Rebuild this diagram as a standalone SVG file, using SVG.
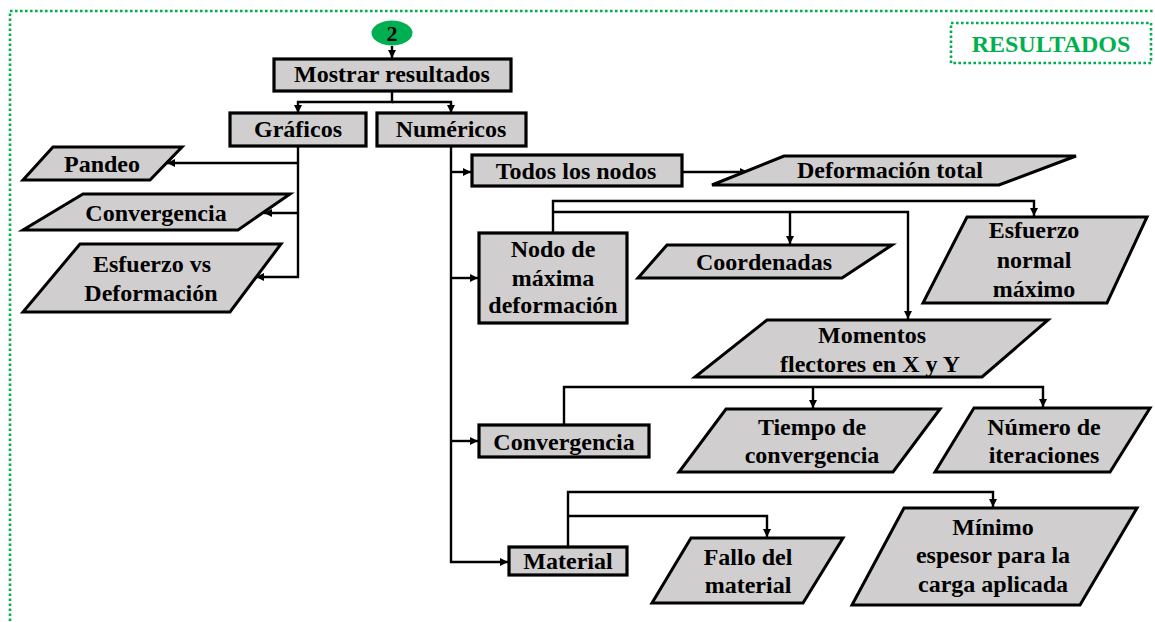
<svg xmlns="http://www.w3.org/2000/svg" width="1155" height="622" viewBox="0 0 1155 622">
<defs>
<marker id="ah" markerUnits="userSpaceOnUse" markerWidth="10" markerHeight="10" viewBox="0 0 10 10" refX="9" refY="5" orient="auto">
<path d="M1,1 L9,5 L1,9 Z" fill="#000"/>
</marker>
<style>
.bx{fill:#D0CECE;stroke:#000;stroke-width:3.2}
.pg{fill:#D0CECE;stroke:#000;stroke-width:3;stroke-linejoin:miter}
.cn{fill:none;stroke:#000;stroke-width:2.4}
.ar{marker-end:url(#ah)}
.t{font-family:"Liberation Serif","Times New Roman",serif;font-weight:bold;font-size:24px;fill:#000;text-anchor:middle}
.g{fill:none;stroke:#00B050;stroke-width:2.6;stroke-dasharray:2.6 2.4}
</style>
</defs>
<rect width="1155" height="622" fill="#fff"/>
<g id="frame">
<rect class="g" x="10" y="11" width="1160" height="630"/>
</g>
<g id="titulo">
<rect class="g" x="951" y="23" width="200" height="40"/>
<text class="t" x="1051" y="52" style="fill:#00B050">RESULTADOS</text>
</g>
<g id="conectores">
<path class="cn ar" d="M392 46 V58"/>
<path class="cn ar" d="M392 91 V102 H298 V113"/>
<path class="cn ar" d="M392 102 H451 V113"/>
<path class="cn ar" d="M298 146 V277 H256"/>
<path class="cn ar" d="M298 163 H167"/>
<path class="cn ar" d="M298 213 H264"/>
<path class="cn ar" d="M451 146 V562 H508"/>
<path class="cn ar" d="M451 172 H471"/>
<path class="cn ar" d="M451 278 H478"/>
<path class="cn ar" d="M451 441 H478"/>
<path class="cn ar" d="M682 172 H748"/>
<path class="cn ar" d="M553 233 V201 H1034 V216"/>
<path class="cn ar" d="M553 212 H908 V319"/>
<path class="cn ar" d="M790 212 V244"/>
<path class="cn ar" d="M564 425 V387 H1043 V407"/>
<path class="cn ar" d="M813 387 V408"/>
<path class="cn ar" d="M568 547 V492 H993 V507"/>
<path class="cn ar" d="M568 516 H767 V537"/>
</g>
<g id="inicio">
<ellipse cx="392" cy="33" rx="20.5" ry="12.5" fill="#00B050"/>
<text class="t" x="392" y="41" style="font-size:22px">2</text>
</g>
<g id="mostrar">
<rect class="bx" x="274" y="59" width="237" height="32"/>
<text class="t" x="392" y="82">Mostrar resultados</text>
</g>
<g id="graficos">
<rect class="bx" x="230" y="113" width="136" height="33"/>
<text class="t" x="298" y="137">Gráficos</text>
</g>
<g id="numericos">
<rect class="bx" x="377" y="113" width="149" height="33"/>
<text class="t" x="451" y="137">Numéricos</text>
</g>
<g id="pandeo">
<polygon class="pg" points="53,147 182,147 150,180 23,180"/>
<text class="t" x="102" y="172">Pandeo</text>
</g>
<g id="convergencia-g">
<polygon class="pg" points="83,194 290,194 238,230 23,230"/>
<text class="t" x="156" y="221">Convergencia</text>
</g>
<g id="esfuerzo-vs">
<polygon class="pg" points="80,244 281,244 230,312 23,312"/>
<text class="t" x="152" y="272">Esfuerzo vs</text>
<text class="t" x="151" y="301">Deformación</text>
</g>
<g id="todos">
<rect class="bx" x="472" y="155" width="210" height="31"/>
<text class="t" x="576" y="179">Todos los nodos</text>
</g>
<g id="deformacion-total">
<polygon class="pg" points="784,156 1076,156 999,185 712,185"/>
<text class="t" x="890" y="178">Deformación total</text>
</g>
<g id="nodo-max">
<rect class="bx" x="479" y="233" width="148" height="90"/>
<text class="t" x="553" y="257">Nodo de</text>
<text class="t" x="553" y="286">máxima</text>
<text class="t" x="553" y="313">deformación</text>
</g>
<g id="coordenadas">
<polygon class="pg" points="667,245 892,245 842,278 638,278"/>
<text class="t" x="764" y="270">Coordenadas</text>
</g>
<g id="esfuerzo-normal">
<polygon class="pg" points="967,217 1147,217 1107,303 923,303"/>
<text class="t" x="1034" y="238">Esfuerzo</text>
<text class="t" x="1034" y="268">normal</text>
<text class="t" x="1034" y="297">máximo</text>
</g>
<g id="momentos">
<polygon class="pg" points="767,320 1048,320 982,377 695,377"/>
<text class="t" x="872" y="343">Momentos</text>
<text class="t" x="870" y="372">flectores en X y Y</text>
</g>
<g id="convergencia-n">
<rect class="bx" x="479" y="425" width="170" height="32"/>
<text class="t" x="564" y="450">Convergencia</text>
</g>
<g id="tiempo">
<polygon class="pg" points="726,409 940,409 893,472 679,472"/>
<text class="t" x="812" y="435">Tiempo de</text>
<text class="t" x="812" y="463">convergencia</text>
</g>
<g id="iteraciones">
<polygon class="pg" points="974,408 1150,408 1110,472 935,472"/>
<text class="t" x="1044" y="435">Número de</text>
<text class="t" x="1044" y="463">iteraciones</text>
</g>
<g id="material">
<rect class="bx" x="509" y="547" width="118" height="28"/>
<text class="t" x="568" y="569">Material</text>
</g>
<g id="fallo">
<polygon class="pg" points="691,538 843,538 803,603 652,603"/>
<text class="t" x="748" y="565">Fallo del</text>
<text class="t" x="748" y="593">material</text>
</g>
<g id="minimo">
<polygon class="pg" points="904,508 1137,508 1080,605 852,605"/>
<text class="t" x="993" y="535">Mínimo</text>
<text class="t" x="993" y="563">espesor para la</text>
<text class="t" x="993" y="592">carga aplicada</text>
</g>
</svg>
